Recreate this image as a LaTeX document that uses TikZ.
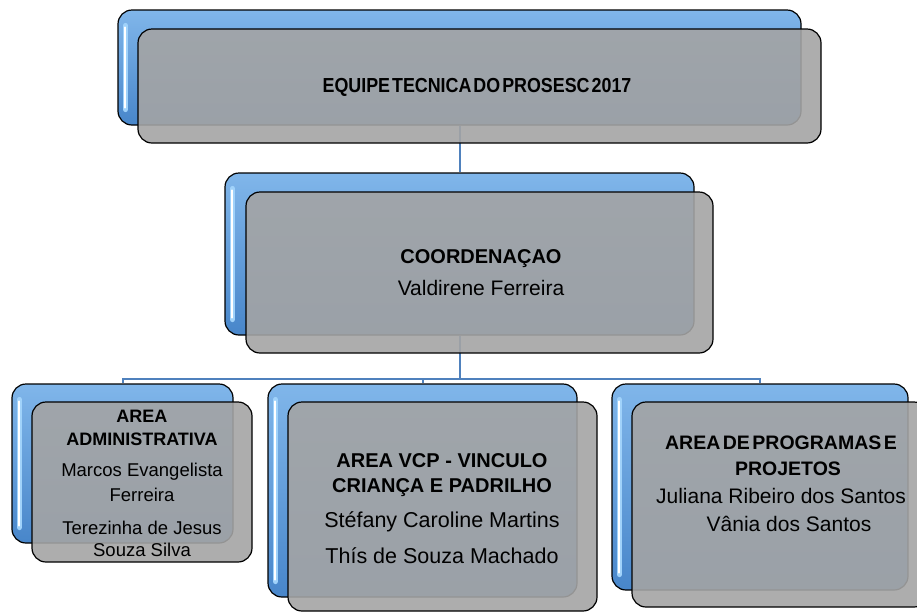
\documentclass[tikz,border=0pt]{standalone}
\usepackage{fontspec}
\setmainfont{Liberation Sans}
\newfontfamily\narrowsans{Liberation Sans}[FakeStretch=0.88]
\usetikzlibrary{backgrounds}

\definecolor{linkblue}{RGB}{79,129,189}
\definecolor{backtop}{RGB}{128,182,234}
\definecolor{backbot}{RGB}{72,134,202}
\definecolor{frontgray}{RGB}{164,164,164}
\definecolor{glowblue}{RGB}{160,210,250}

\tikzset{
  backbox/.style={draw=black,line width=1.2pt,rounded corners=14pt,top color=backtop,bottom color=backbot,inner sep=0pt},
  frontbox/.style={draw=black,line width=1.2pt,rounded corners=14pt,fill=frontgray,fill opacity=0.9,inner sep=0pt},
  glowline/.style={glowblue,line width=5pt,line cap=round},
  glintline/.style={white,line width=2pt,line cap=round},
  link/.style={linkblue,line width=2pt},
  boxtext/.style={align=center,inner sep=0pt,text=black}
}

\begin{document}
\begin{tikzpicture}[x=1pt,y=-1pt]
\useasboundingbox (0,0) rectangle (917,614);

% top box
\node[backbox,minimum width=683pt,minimum height=115pt] (topback) at (459.5,67.5) {};
\draw[glowline] ([xshift=8pt,yshift=-16pt]topback.north west) -- ([xshift=8pt,yshift=16pt]topback.south west);
\draw[glintline] ([xshift=8pt,yshift=-18pt]topback.north west) -- ([xshift=8pt,yshift=18pt]topback.south west);
\node[frontbox,minimum width=683pt,minimum height=114pt] (topfront) at (479.5,86) {};
\node[boxtext,font={\narrowsans\fontsize{20.3}{22}\selectfont\bfseries\spaceskip=2pt\relax}] (toptext) at (477,87) {EQUIPE TECNICA DO PROSESC 2017};

% coordenacao
\node[backbox,minimum width=469pt,minimum height=162pt] (midback) at (459.5,254) {};
\draw[glowline] ([xshift=8pt,yshift=-16pt]midback.north west) -- ([xshift=8pt,yshift=16pt]midback.south west);
\draw[glintline] ([xshift=8pt,yshift=-18pt]midback.north west) -- ([xshift=8pt,yshift=18pt]midback.south west);
\node[frontbox,minimum width=467pt,minimum height=161pt] (midfront) at (479.5,272.5) {};
\node[boxtext,font=\fontsize{21}{24}\selectfont] (midtext) at (481,273)
  {{\fontsize{20}{24}\selectfont\bfseries COORDENAÇAO}\\[8pt]Valdirene Ferreira};

% area administrativa
\node[backbox,minimum width=221pt,minimum height=159pt] (leftback) at (122.5,463.5) {};
\draw[glowline] ([xshift=8pt,yshift=-16pt]leftback.north west) -- ([xshift=8pt,yshift=16pt]leftback.south west);
\draw[glintline] ([xshift=8pt,yshift=-18pt]leftback.north west) -- ([xshift=8pt,yshift=18pt]leftback.south west);
\node[frontbox,minimum width=220pt,minimum height=160pt] (leftfront) at (142,482) {};
\node[boxtext,font=\fontsize{18.5}{23}\selectfont] (lefttext) at (142,483)
  {{\fontsize{18}{23}\selectfont\bfseries AREA}\\{\fontsize{18}{23}\selectfont\bfseries ADMINISTRATIVA}\\[8pt]
   Marcos Evangelista\\[2pt]Ferreira\\[10pt]Terezinha de Jesus\\[-1pt]Souza Silva};

% area vcp
\node[backbox,minimum width=309pt,minimum height=213pt] (cenback) at (422.5,490.5) {};
\draw[glowline] ([xshift=8pt,yshift=-16pt]cenback.north west) -- ([xshift=8pt,yshift=16pt]cenback.south west);
\draw[glintline] ([xshift=8pt,yshift=-18pt]cenback.north west) -- ([xshift=8pt,yshift=18pt]cenback.south west);
\node[frontbox,minimum width=309pt,minimum height=209pt] (cenfront) at (442.5,506.5) {};
\node[boxtext,font=\fontsize{21.5}{25}\selectfont] (centext) at (442,509)
  {{\fontsize{20}{25}\selectfont\bfseries AREA VCP - VINCULO}\\{\fontsize{20}{25}\selectfont\bfseries CRIANÇA E PADRILHO}\\[10pt]
   Stéfany Caroline Martins\\[11pt]Thís de Souza Machado};

% area de programas
\node[backbox,minimum width=296pt,minimum height=206pt] (rightback) at (760,487) {};
\draw[glowline] ([xshift=8pt,yshift=-16pt]rightback.north west) -- ([xshift=8pt,yshift=16pt]rightback.south west);
\draw[glintline] ([xshift=8pt,yshift=-18pt]rightback.north west) -- ([xshift=8pt,yshift=18pt]rightback.south west);
\node[frontbox,minimum width=296pt,minimum height=205pt] (rightfront) at (780,504.5) {};
\node[boxtext,font=\fontsize{21}{26}\selectfont] (righttext) at (781,484)
  {{\fontsize{19.5}{26}\selectfont\bfseries\spaceskip=2.5pt\relax AREA DE PROGRAMAS E}\\{\fontsize{19.5}{26}\selectfont\bfseries\hspace*{14pt}PROJETOS}\\[2pt]
   Juliana Ribeiro dos Santos\\[2pt]\hspace*{16pt}Vânia dos Santos};

% connectors behind the boxes
\begin{pgfonlayer}{background}
\coordinate (bus) at (459.5,379);
\draw[link] (topback.south) -- (midback.north);
\draw[link] (midback.south) -- (bus);
\draw[link] (bus) -| (leftback.north);
\draw[link] (bus) -| (cenback.north);
\draw[link] (bus) -| (rightback.north);
\end{pgfonlayer}
\end{tikzpicture}
\end{document}
